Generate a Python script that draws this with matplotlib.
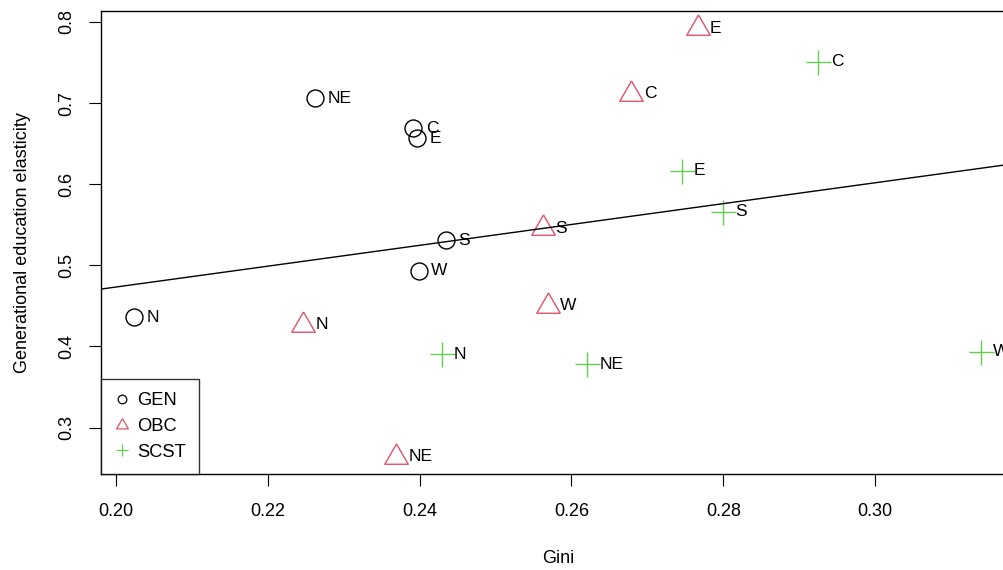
import numpy as np
import matplotlib
matplotlib.use("Agg")
import matplotlib.pyplot as plt
from matplotlib.lines import Line2D

plt.rcParams["font.family"] = ["Liberation Sans", "DejaVu Sans"]

regions_gen = ["N", "NE", "C", "E", "S", "W"]
gini_gen = [0.2024, 0.2263, 0.2392, 0.2397, 0.2435, 0.2399]
elast_gen = [0.4359, 0.7059, 0.6689, 0.6566, 0.5312, 0.4934]

regions_obc = ["E", "C", "S", "W", "N", "NE"]
gini_obc = [0.2766, 0.2679, 0.2562, 0.2569, 0.2247, 0.2369]
elast_obc = [0.7920, 0.7117, 0.5460, 0.4502, 0.4266, 0.2637]

regions_scst = ["C", "E", "S", "N", "NE", "W"]
gini_scst = [0.2925, 0.2745, 0.2799, 0.2429, 0.2620, 0.3139]
elast_scst = [0.7511, 0.6167, 0.5661, 0.3902, 0.3783, 0.3935]

fit_intercept = 0.2160
fit_slope = 1.286

x_ticks = [0.20, 0.22, 0.24, 0.26, 0.28, 0.30]
y_ticks = [0.3, 0.4, 0.5, 0.6, 0.7, 0.8]

red = "#DF536B"
green = "#61D04F"

# R pch=2 triangle, centred on centroid
tri = [(0, 1.5551), (-1.3468, -0.7776), (1.3468, -0.7776), (0, 1.5551)]

fig = plt.figure(figsize=(10.04, 5.70), dpi=100)
ax = fig.add_axes([0.1009, 0.1684, 0.9101, 0.8128])

ax.plot(gini_gen, elast_gen, linestyle="none", marker="o", ms=12.2,
        mfc="none", mec="black", mew=1.0)
ax.plot(gini_obc, elast_obc, linestyle="none", marker=tri, ms=19.5,
        mfc="none", mec=red, mew=1.0)
ax.plot(gini_scst, elast_scst, linestyle="none", marker="+", ms=18,
        color=green, mew=1.0)

for xs, ys, labs in [(gini_gen, elast_gen, regions_gen),
                     (gini_obc, elast_obc, regions_obc),
                     (gini_scst, elast_scst, regions_scst)]:
    for x, y, lab in zip(xs, ys, labs):
        ax.annotate(lab, (x, y), xytext=(9, 0), textcoords="offset points",
                    ha="left", va="center", fontsize=12.5, clip_on=False)

ax.axline((0, fit_intercept), slope=fit_slope, color="black", lw=1.0)

ax.set_xlim(0.1981, 0.3184)
ax.set_ylim(0.2427, 0.8139)
ax.set_xticks(x_ticks)
ax.set_xticklabels([f"{v:.2f}" for v in x_ticks])
ax.set_yticks(y_ticks)
ax.set_yticklabels([f"{v:.1f}" for v in y_ticks], rotation=90, va="center")
ax.tick_params(direction="out", length=8.6, width=0.8, labelsize=13)
ax.tick_params(axis="x", pad=12)
ax.tick_params(axis="y", pad=10)
for s in ax.spines.values():
    s.set_linewidth(1.0)

ax.set_xlabel("Gini", fontsize=13, labelpad=22)
ax.set_ylabel("Generational education elasticity", fontsize=13, labelpad=20)

# 图例
handles = [
    Line2D([], [], linestyle="none", marker="o", ms=6.2, mfc="none", mec="black", mew=0.9),
    Line2D([], [], linestyle="none", marker=tri, ms=9.8, mfc="none", mec=red, mew=0.9),
    Line2D([], [], linestyle="none", marker="+", ms=9, color=green, mew=0.9),
]
leg = ax.legend(handles, ["GEN", "OBC", "SCST"], loc="lower left",
                bbox_to_anchor=(0, 0), borderaxespad=0, fontsize=13.2,
                frameon=True, fancybox=False, edgecolor="black",
                handlelength=0.8, handletextpad=0.45, labelspacing=0.48,
                borderpad=0.72)
leg.get_frame().set_linewidth(1.0)

fig.savefig("out.png", dpi=100)
